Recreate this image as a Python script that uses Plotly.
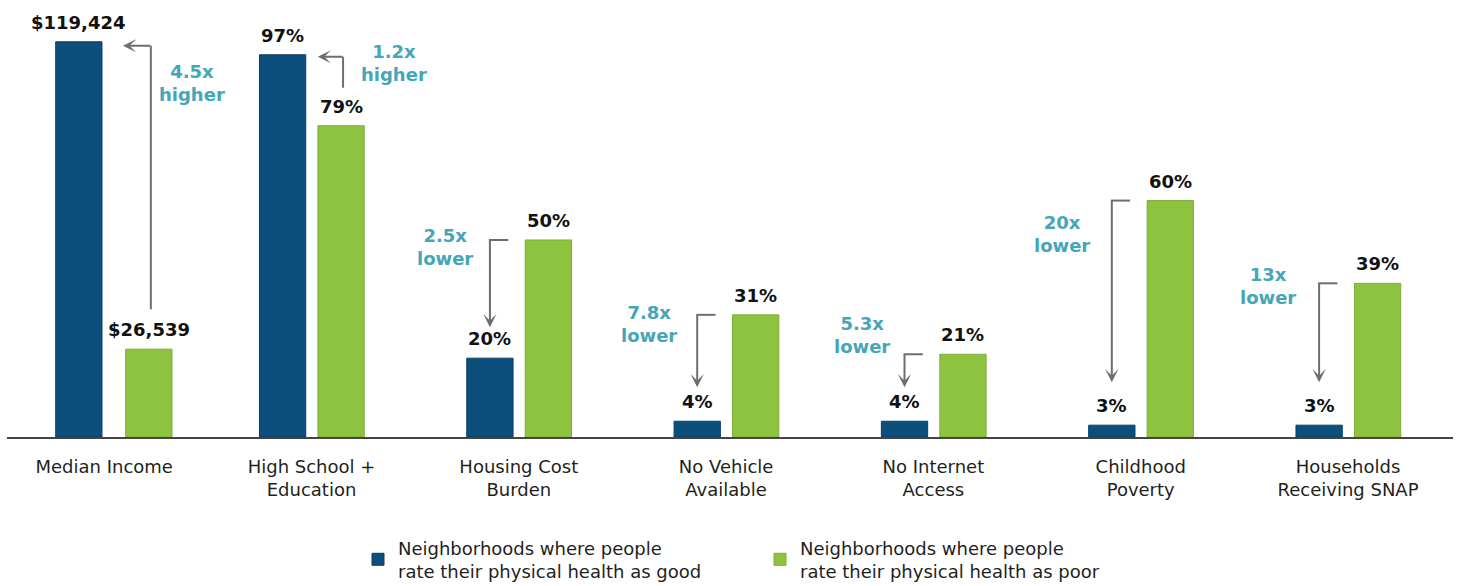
import plotly.graph_objects as go

# ---------------- data ----------------
CATEGORIES = [
    "Median Income",
    "High School +<br>Education",
    "Housing Cost<br>Burden",
    "No Vehicle<br>Available",
    "No Internet<br>Access",
    "Childhood<br>Poverty",
    "Households<br>Receiving SNAP",
]
GOOD_VALUES = [119424, 97, 20, 4, 4, 3, 3]
POOR_VALUES = [26539, 79, 50, 31, 21, 60, 39]
GOOD_LABELS = ["$119,424", "97%", "20%", "4%", "4%", "3%", "3%"]
POOR_LABELS = ["$26,539", "79%", "50%", "31%", "21%", "60%", "39%"]
RATIO_LABELS = ["4.5x<br>higher", "1.2x<br>higher", "2.5x<br>lower", "7.8x<br>lower",
                "5.3x<br>lower", "20x<br>lower", "13x<br>lower"]
SERIES_NAMES = [
    "Neighborhoods where people<br>rate their physical health as good",
    "Neighborhoods where people<br>rate their physical health as poor",
]
# income is drawn on the same visual scale as the percentages
INCOME_PER_UNIT = 119424 / 100.3

# ---------------- style / layout ----------------
BLUE = "#0c4f7c"
GREEN = "#8dc33f"
TEAL = "#45a6b7"
GRAY = "#6d6e71"
W, H = 1458, 586
ML, MR, MT, MB = 7, 5, 0, 148.5
CAT_PX = 207.3            # pixels per category
CAT0_PX = 104.2           # pixel x of first category centre
PX_PER_UNIT = 3.945       # pixels per y unit
BASE_PX = H - MB
BAR_W = 0.2233
BLUE_OFF = [-0.234, -0.251, -0.251, -0.251, -0.251, -0.251, -0.251]
GREEN_OFF = [0.1037, 0.031, 0.031, 0.031, 0.031, 0.031, 0.031]
# arrow styling (pixels)
TIP_GAP = [21, 12, 31, 34, 34, 43, 43]     # lower: gap above blue bar; higher: gap right of blue bar
START_GAP = [40, 38, 17, 17, 17, 17, 17]   # higher: gap above green bar; lower: gap left of green bar
CORNER_DROP = [4, 2, 0, 0, 0, 0, 0]
RATIO_POS_PX = [(192, 83), (394, 63), (445, 247), (649, 324), (862, 335), (1062, 234), (1268, 286)]

n = len(CATEGORIES)
idx = list(range(n))
good_plot = [GOOD_VALUES[0] / INCOME_PER_UNIT] + GOOD_VALUES[1:]
poor_plot = [POOR_VALUES[0] / INCOME_PER_UNIT] + POOR_VALUES[1:]


def dx(px):
    return px / CAT_PX


def dy(px):
    return px / PX_PER_UNIT


def xdata(px):
    return (px - CAT0_PX) / CAT_PX


def ydata(py):
    return (BASE_PX - py) / PX_PER_UNIT


fig = go.Figure()
fig.add_trace(go.Bar(
    x=idx, y=good_plot, name=SERIES_NAMES[0], marker_color=BLUE,
    marker_line=dict(color="#0a3f63", width=1),
    width=[BAR_W] * n, offset=BLUE_OFF, hoverinfo="skip",
))
fig.add_trace(go.Bar(
    x=idx, y=poor_plot, name=SERIES_NAMES[1], marker_color=GREEN,
    marker_line=dict(color="#7cae38", width=1),
    width=[BAR_W] * n, offset=GREEN_OFF, hoverinfo="skip",
))

annotations = []
shapes = []
blue_c = [i + BLUE_OFF[i] + BAR_W / 2 for i in idx]
green_c = [i + GREEN_OFF[i] + BAR_W / 2 for i in idx]
VAL_FONT = dict(family="DejaVu Sans", size=18, color="#111111", weight="bold")
for i in idx:
    annotations.append(dict(x=blue_c[i], y=good_plot[i], text="<b>%s</b>" % GOOD_LABELS[i],
                            xref="x", yref="y", showarrow=False, yanchor="bottom",
                            yshift=7, font=VAL_FONT))
    annotations.append(dict(x=green_c[i], y=poor_plot[i], text="<b>%s</b>" % POOR_LABELS[i],
                            xref="x", yref="y", showarrow=False, yanchor="bottom",
                            yshift=7, font=VAL_FONT))
    tx, ty = RATIO_POS_PX[i]
    annotations.append(dict(x=xdata(tx), y=ydata(ty), text="<b>%s</b>" % RATIO_LABELS[i],
                            xref="x", yref="y", showarrow=False, xanchor="center", yanchor="middle",
                            font=dict(family="DejaVu Sans", size=18, color=TEAL)))

    if good_plot[i] > poor_plot[i]:
        # elbow arrow: up from green, left to blue
        xv = green_c[i] + dx(2)
        y0 = poor_plot[i] + dy(START_GAP[i])
        yc = good_plot[i] - dy(CORNER_DROP[i])
        xtip = i + BLUE_OFF[i] + BAR_W + dx(TIP_GAP[i])
        shapes.append(dict(type="line", xref="x", yref="y", x0=xv, x1=xv, y0=y0, y1=yc,
                           line=dict(color=GRAY, width=2)))
        annotations.append(dict(x=xtip, y=yc, ax=xv + dx(1), ay=yc, xref="x", yref="y",
                                axref="x", ayref="y", text="", showarrow=True,
                                arrowhead=3, arrowsize=1.1, arrowwidth=2, arrowcolor=GRAY))
    else:
        # elbow arrow: left from green top, down to blue
        xs = i + GREEN_OFF[i] - dx(START_GAP[i])
        xv = blue_c[i]
        yc = poor_plot[i]
        ytip = good_plot[i] + dy(TIP_GAP[i])
        shapes.append(dict(type="line", xref="x", yref="y", x0=xs, x1=xv - dx(1), y0=yc, y1=yc,
                           line=dict(color=GRAY, width=2)))
        annotations.append(dict(x=xv, y=ytip, ax=xv, ay=yc + dy(1), xref="x", yref="y",
                                axref="x", ayref="y", text="", showarrow=True,
                                arrowhead=3, arrowsize=1.1, arrowwidth=2, arrowcolor=GRAY))

x_left = -(CAT0_PX - ML) / CAT_PX
x_right = x_left + (W - ML - MR) / CAT_PX

fig.update_layout(
    width=W, height=H,
    margin=dict(l=ML, r=MR, t=MT, b=MB, pad=0, autoexpand=False),
    plot_bgcolor="white", paper_bgcolor="white",
    barmode="group",
    showlegend=True,
    legend=dict(orientation="h", x=(358 - ML) / (W - ML - MR), xanchor="left",
                y=-(530 - BASE_PX) / BASE_PX, yanchor="top",
                font=dict(family="DejaVu Sans", size=18, color="#231f20"),
                entrywidth=357, entrywidthmode="pixels", traceorder="normal"),
    annotations=annotations,
    shapes=shapes,
    xaxis=dict(
        range=[x_left, x_right], tickmode="array", tickvals=idx, ticktext=CATEGORIES,
        showgrid=False, zeroline=False, showline=True, linecolor="#444444", linewidth=2,
        ticks="", ticklabelstandoff=12,
        tickfont=dict(family="DejaVu Sans", size=18, color="#231f20"),
    ),
    yaxis=dict(range=[0, BASE_PX / PX_PER_UNIT], visible=False, showgrid=False, zeroline=False),
)

fig.write_html("out.html", config={"displayModeBar": False},
               post_script="document.body.style.margin='0';document.body.style.overflow='hidden';")
